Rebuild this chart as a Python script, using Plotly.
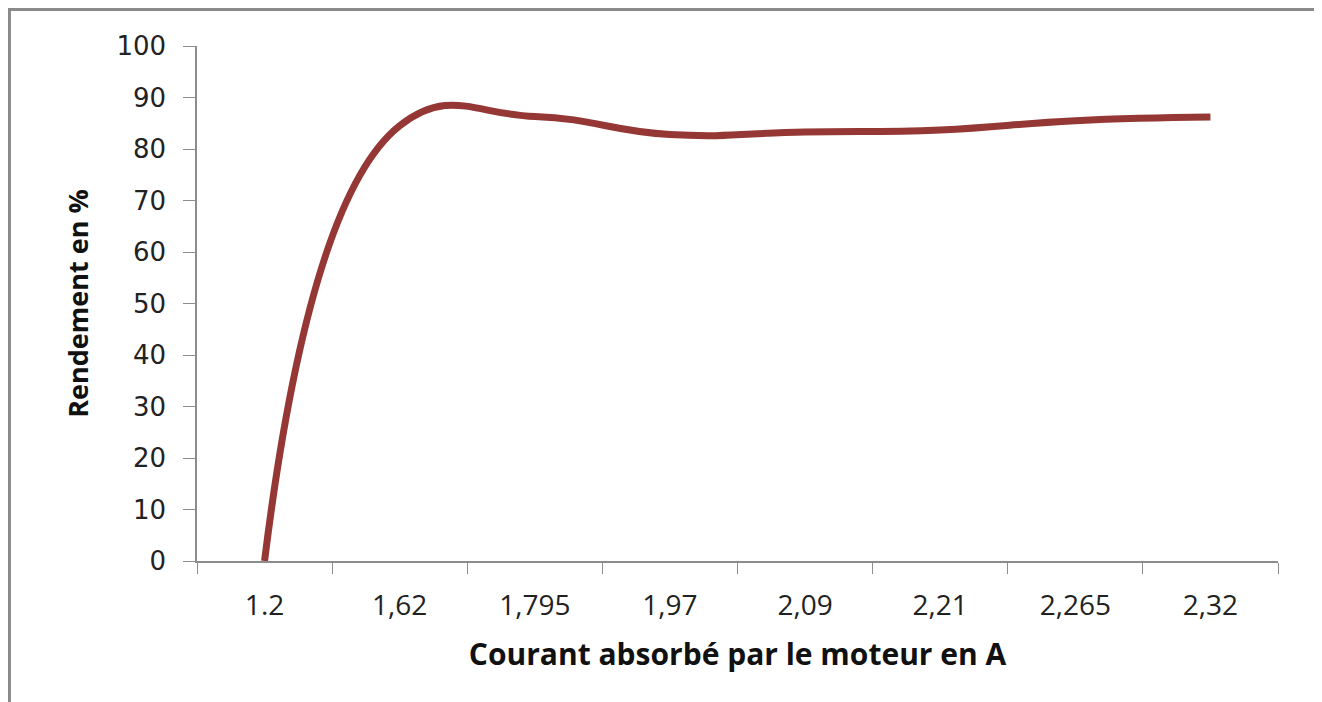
import plotly.graph_objects as go

categories = ["1.2", "1,62", "1,795", "1,97", "2,09", "2,21", "2,265", "2,32"]
rendement = [0, 84.5, 86.3, 82.8, 83.3, 83.7, 85.5, 86.2]
y_ticks = [0, 10, 20, 30, 40, 50, 60, 70, 80, 90, 100]

fig = go.Figure()
fig.add_trace(go.Scatter(
    x=categories, y=rendement, mode="lines",
    line=dict(color="#953735", width=7, shape="spline", smoothing=1.3),
    showlegend=False,
))

axis_grey = "#8c8c8c"
fig.update_layout(
    width=1322, height=702,
    margin=dict(l=189, r=52, t=38, b=149),
    paper_bgcolor="white", plot_bgcolor="white",
    font=dict(family="Open Sans, Liberation Sans, sans-serif", color="#222222"),
    xaxis=dict(
        type="category", range=[-0.5, 7.5],
        tickson="boundaries", ticks="outside", ticklen=11, tickcolor=axis_grey,
        showline=True, linecolor=axis_grey, linewidth=1.5, showgrid=False,
        tickfont=dict(size=28, family="Open Sans, sans-serif", color="#222"),
        ticklabelstandoff=19,
        title=dict(text="<b>Courant absorbé par le moteur en A</b>",
                   font=dict(size=30, family="Open Sans, sans-serif", color="#111"),
                   standoff=22),
    ),
    yaxis=dict(
        range=[0, 100], tickvals=y_ticks, ticks="outside", ticklen=12,
        tickcolor=axis_grey, showline=True, linecolor=axis_grey, linewidth=1.5,
        showgrid=False, zeroline=False,
        tickfont=dict(size=26, family="DejaVu Sans, sans-serif", color="#222"),
        ticklabelstandoff=12,
        title=dict(text="<b>Rendement en %</b>",
                   font=dict(size=27, family="Open Sans, sans-serif", color="#111"),
                   standoff=20),
    ),
)

fig.add_shape(type="rect", xref="paper", yref="paper",
              x0=-0.1735, x1=1.0352, y0=-0.31, y1=1.0709,
              line=dict(color="#8a8a8a", width=3), layer="above")

fig.write_html("out.html")
